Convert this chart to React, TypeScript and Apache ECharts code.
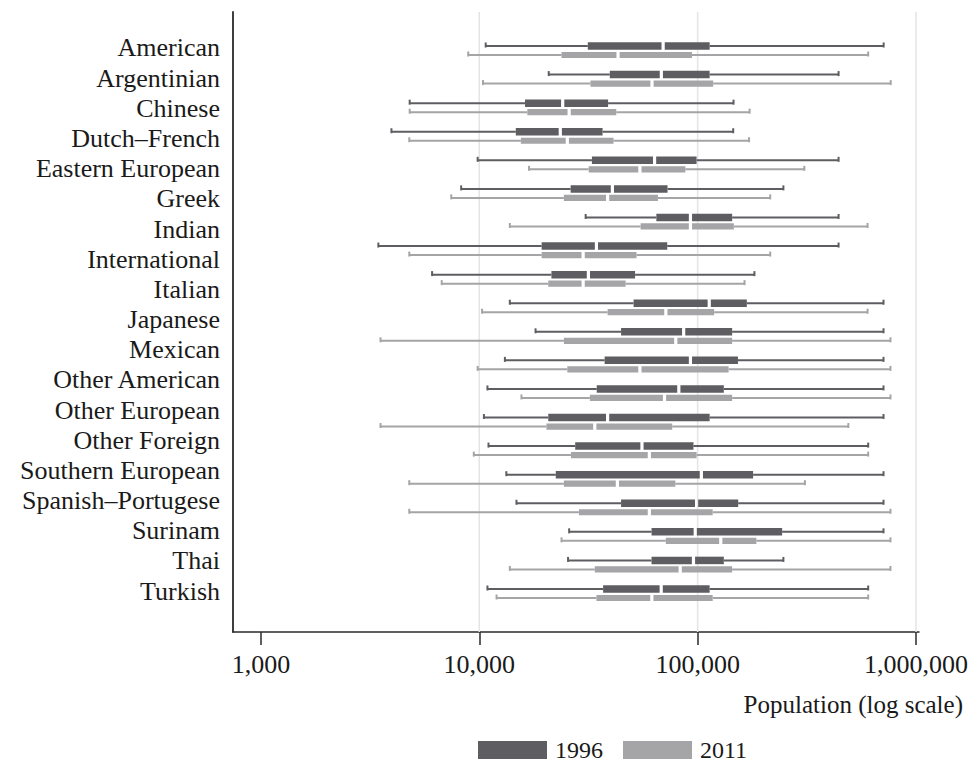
import React, { useEffect, useRef } from "react";
import * as echarts from "echarts";

// Labels shown on the vertical axis (19 labels spread over 20 plotted rows, as in the source)
const groupLabels = [
  "American", "Argentinian", "Chinese", "Dutch–French", "Eastern European", "Greek",
  "Indian", "International", "Italian", "Japanese", "Mexican", "Other American",
  "Other European", "Other Foreign", "Southern European", "Spanish–Portugese",
  "Surinam", "Thai", "Turkish",
];

// Box statistics per plotted row (top to bottom), 1996
const min1996 = [10700, 20800, 4800, 3960, 9830, 8260, 30700, 3450, 6080, 13800, 18100, 13100, 10900, 10500, 11020, 13300, 14800, 25800, 25500, 10900];
const q1_1996 = [31400, 39600, 16200, 14700, 32800, 26200, 64700, 19300, 21400, 50900, 44600, 37500, 34500, 20700, 27500, 22400, 44600, 61500, 61500, 36900];
const med1996 = [69500, 68200, 24100, 23500, 63500, 40700, 92700, 34400, 31600, 113000, 86300, 92700, 82000, 38700, 55600, 104000, 98900, 97500, 95700, 68100];
const q3_1996 = [113500, 113500, 38900, 36700, 98900, 72800, 143900, 72600, 51700, 168000, 143900, 153000, 131800, 113500, 95700, 179500, 153400, 243800, 131800, 113500];
const max1996 = [711000, 442000, 146000, 145500, 442000, 247000, 442000, 442000, 182000, 710000, 710000, 710000, 710000, 710000, 604000, 710000, 710000, 710000, 247000, 604000];

// Box statistics per plotted row (top to bottom), 2011
const min2011 = [8900, 10400, 4800, 4780, 16900, 7440, 13800, 4780, 6730, 10300, 3530, 9830, 15600, 3530, 9440, 4780, 4780, 23800, 13800, 12000];
const q1_2011 = [23800, 32300, 16600, 15500, 31700, 24400, 54800, 19300, 20700, 38700, 24400, 25300, 32100, 20300, 26300, 24400, 28600, 71500, 33800, 34400];
const med2011 = [43200, 61800, 25800, 25300, 54400, 38700, 92700, 29900, 29900, 71500, 79400, 54400, 70500, 33800, 60100, 42900, 60100, 127600, 83200, 61700];
const q3_2011 = [94200, 117800, 42400, 41200, 87900, 65800, 146500, 52500, 46800, 119000, 143900, 138600, 143900, 76500, 98900, 79100, 117200, 185800, 143900, 117200];
const max2011 = [604000, 766000, 173000, 172000, 308000, 215000, 600000, 215000, 164000, 600000, 764000, 764000, 764000, 490000, 604000, 310000, 764000, 764000, 764000, 604000];

const xTicks = [1000, 10000, 100000, 1000000];
const gridValues = [10000, 100000, 1000000];
const years = ["1996", "2011"];

const FONT = "Liberation Serif";
const DARK = "#5e5e62";
const LIGHT = "#a5a5a8";

function buildRows(mins: number[], q1s: number[], meds: number[], q3s: number[], maxs: number[]) {
  return mins.map((m, i) => [i, m, q1s[i], meds[i], q3s[i], maxs[i]]);
}

function makeRenderer(offset: number, boxH: number, color: string, lw: number) {
  return (params: any, api: any) => {
    const row = api.value(0);
    const cy = api.coord([10000, row])[1] + offset;
    const px = (i: number) => api.coord([api.value(i), row])[0];
    const xMin = px(1), xQ1 = px(2), xMed = px(3), xQ3 = px(4), xMax = px(5);
    const gap = 1.6;
    const lineStyle = { stroke: color, lineWidth: lw };
    return {
      type: "group",
      children: [
        { type: "line", shape: { x1: xMin, y1: cy, x2: xQ1, y2: cy }, style: lineStyle },
        { type: "line", shape: { x1: xQ3, y1: cy, x2: xMax, y2: cy }, style: lineStyle },
        { type: "line", shape: { x1: xMin, y1: cy - 3.5, x2: xMin, y2: cy + 1.5 }, style: lineStyle },
        { type: "line", shape: { x1: xMax, y1: cy - 3.5, x2: xMax, y2: cy + 1.5 }, style: lineStyle },
        { type: "rect", shape: { x: xQ1, y: cy - boxH / 2, width: Math.max(0, xMed - gap - xQ1), height: boxH }, style: { fill: color } },
        { type: "rect", shape: { x: xMed + gap, y: cy - boxH / 2, width: Math.max(0, xQ3 - xMed - gap), height: boxH }, style: { fill: color } },
      ],
    };
  };
}

export default function App() {
  const ref = useRef<HTMLDivElement>(null);
  useEffect(() => {
    if (!ref.current) return;
    const chart = echarts.init(ref.current, undefined, { renderer: "svg" });
    const labelIdx = groupLabels.map((_, i) => i);
    chart.setOption({
      animation: false,
      color: [DARK, LIGHT],
      textStyle: { fontFamily: FONT },
      grid: { left: 233, top: 12, width: 688, height: 620, containLabel: false },
      xAxis: {
        type: "log",
        logBase: 10,
        min: 745,
        max: 1032000,
        name: "Population (log scale)",
        nameLocation: "end",
        nameGap: 44,
        nameTextStyle: { fontFamily: FONT, fontSize: 25, color: "#1a1a1a", align: "right", verticalAlign: "top", padding: [60, 0, 0, 0] },
        axisLine: { show: true, onZero: false, lineStyle: { color: "#2a2a2a", width: 1.5 } },
        axisTick: { show: true, customValues: xTicks, length: 13, lineStyle: { color: "#2a2a2a", width: 1.5 } },
        axisLabel: {
          customValues: xTicks,
          fontFamily: FONT,
          fontSize: 26,
          color: "#1a1a1a",
          margin: 19,
          formatter: (v: number) => Math.round(v).toLocaleString("en-US"),
        },
        splitLine: { show: false },
      },
      yAxis: [
        { type: "value", min: -1.347, max: 20.347, inverse: true, show: false },
        {
          type: "value",
          min: -1.193,
          max: 19.357,
          inverse: true,
          position: "left",
          axisLine: { show: true, onZero: false, lineStyle: { color: "#2a2a2a", width: 1.8 } },
          axisTick: { show: false },
          splitLine: { show: false },
          axisLabel: {
            customValues: labelIdx,
            fontFamily: FONT,
            fontSize: 26,
            color: "#1a1a1a",
            margin: 13,
            formatter: (v: number) => groupLabels[Math.round(v)] ?? "",
          },
        },
      ],
      legend: {
        data: years,
        icon: "rect",
        itemWidth: 69,
        itemHeight: 18,
        itemGap: 20,
        padding: 0,
        left: 478,
        top: 738,
        textStyle: { fontFamily: FONT, fontSize: 24, lineHeight: 20, color: "#1a1a1a", padding: [0, 0, 0, 3] },
      },
      series: [
        {
          type: "custom",
          name: "grid",
          silent: true,
          xAxisIndex: 0,
          yAxisIndex: 0,
          data: gridValues.map((v) => [v, 0]),
          encode: { x: 0, y: 1 },
          renderItem: (params: any, api: any) => {
            const x = api.coord([api.value(0), 0])[0];
            const cs = params.coordSys;
            return {
              type: "line",
              shape: { x1: x, y1: cs.y, x2: x, y2: cs.y + cs.height },
              style: { stroke: "#e4e4e4", lineWidth: 1.5 },
            };
          },
          z: 1,
        },
        {
          type: "custom",
          name: "1996",
          xAxisIndex: 0,
          yAxisIndex: 0,
          itemStyle: { color: DARK },
          data: buildRows(min1996, q1_1996, med1996, q3_1996, max1996),
          encode: { x: [1, 2, 3, 4, 5], y: 0 },
          renderItem: makeRenderer(-4.5, 7.5, DARK, 2),
          z: 3,
        },
        {
          type: "custom",
          name: "2011",
          xAxisIndex: 0,
          yAxisIndex: 0,
          itemStyle: { color: LIGHT },
          data: buildRows(min2011, q1_2011, med2011, q3_2011, max2011),
          encode: { x: [1, 2, 3, 4, 5], y: 0 },
          renderItem: makeRenderer(4.5, 6.2, LIGHT, 2),
          z: 3,
        },
      ],
    });
    return () => chart.dispose();
  }, []);
  return <div ref={ref} style={{ position: "absolute", left: 0, top: 0, width: 971, height: 762 }} />;
}
